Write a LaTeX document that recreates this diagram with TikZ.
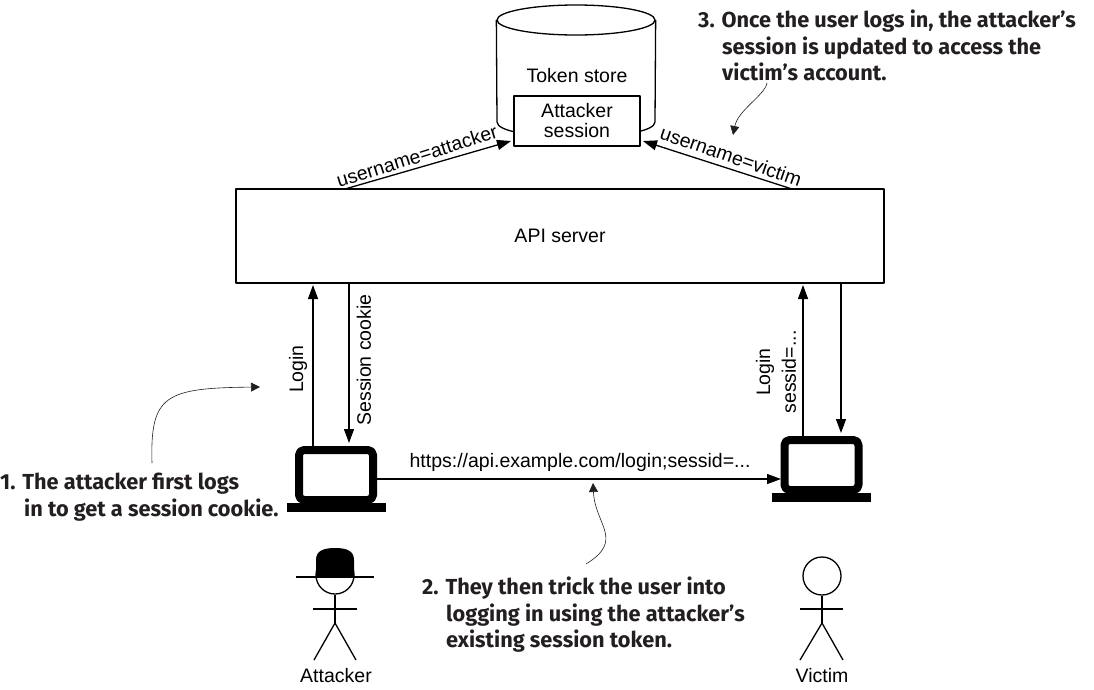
\documentclass[tikz,border=0pt]{standalone}
\usepackage{fontspec}
\setmainfont{Liberation Sans}
\newfontfamily\calloutfont{Fira Sans}
\usetikzlibrary{arrows.meta,shapes.geometric}
\definecolor{inkdark}{HTML}{231F20}
\begin{document}
\begin{tikzpicture}[x=1pt,y=-1pt,line join=bevel]
  \tikzstyle{every node}=[font=\fontsize{19.5}{20}\selectfont,text=black]
  \tikzstyle{box}=[draw,line width=1.3pt,fill=white,align=center,inner sep=0pt]
  \tikzstyle{flow}=[line width=1.3pt,-{Triangle[length=14pt,width=10pt]}]
  \tikzstyle{note}=[inkdark,line width=0.6pt,-{Triangle[length=9pt,width=9pt]}]
  \tikzstyle{callout}=[anchor=north west,inner sep=0pt,align=left,text=inkdark,font=\calloutfont\bfseries\fontsize{21.75}{26.5}\selectfont]
  \tikzstyle{laptop}=[draw,line width=8pt,rounded corners=5pt,minimum width=74pt,minimum height=50pt,inner sep=0pt]
  \tikzstyle{laptopbase}=[fill=black,minimum width=99pt,minimum height=9pt,inner sep=0pt]
  \tikzstyle{head}=[circle,draw,line width=1.3pt,minimum size=38pt,inner sep=0pt]
  \useasboundingbox (0,0) rectangle (1094,689);

  % token store
  \node[ellipse,draw,line width=1.3pt,minimum width=158pt,minimum height=30pt,inner sep=0pt] (store) at (576,20) {};
  \coordinate (store_bl) at (497,122);
  \coordinate (store_br) at (655,122);
  \coordinate (store_b) at (576,137);
  \draw[line width=1.3pt] (store.west) -- (store_bl) .. controls (497,131) and (530,137) .. (store_b) .. controls (622,137) and (655,131) .. (store_br) -- (store.east);
  \node (storelabel) at (577,76) {Token store};
  \node[box,minimum width=126pt,minimum height=50pt] (session) at (577,121) {Attacker\\session};

  % server
  \node[box,minimum width=648pt,minimum height=94pt] (api) at (560,236) {API server};

  % laptops
  \node[laptop] (lap_A) at (336,475) {};
  \node[laptopbase] (base_A) at (336,507.5) {};
  \node[laptop] (lap_V) at (821.5,465) {};
  \node[laptopbase] (base_V) at (821.5,497.5) {};

  % stick figures
  \node[head] (head_A) at (335,575) {};
  \fill (316,577) -- (316,560) .. controls (316,551) and (323,548) .. (335,548) .. controls (347,548) and (354,551) .. (354,560) -- (354,577) -- cycle;
  \coordinate (brim_l) at (296,577);
  \coordinate (brim_r) at (374,577);
  \draw[line width=1.3pt] (brim_l) -- (brim_r);
  \coordinate (hip_A) at (335,623);
  \coordinate (arm_Al) at (313,609);
  \coordinate (arm_Ar) at (357,609);
  \coordinate (leg_Al) at (314,660);
  \coordinate (leg_Ar) at (356,660);
  \draw[line width=1.3pt] (head_A) -- (hip_A);
  \draw[line width=1.3pt] (arm_Al) -- (arm_Ar);
  \draw[line width=1.3pt] (leg_Al) -- (hip_A) -- (leg_Ar);
  \node (attacker) at (336,676) {Attacker};

  \node[head,fill=white] (head_V) at (822,576) {};
  \coordinate (hip_V) at (822,623);
  \coordinate (arm_Vl) at (800,609);
  \coordinate (arm_Vr) at (843,609);
  \coordinate (leg_Vl) at (800,660);
  \coordinate (leg_Vr) at (843,660);
  \draw[line width=1.3pt] (head_V) -- (hip_V);
  \draw[line width=1.3pt] (arm_Vl) -- (arm_Vr);
  \draw[line width=1.3pt] (leg_Vl) -- (hip_V) -- (leg_Vr);
  \node (victim) at (822,676) {Victim};

  % arrow ends
  \coordinate (login_A0) at (313,446);
  \coordinate (login_A1) at (313,285);
  \coordinate (cookie_0) at (349,283);
  \coordinate (cookie_1) at (349,443);
  \coordinate (login_V0) at (803,436);
  \coordinate (login_V1) at (803,285);
  \coordinate (back_0) at (841,283);
  \coordinate (back_1) at (841,433);
  \coordinate (up_A0) at (345,189);
  \coordinate (up_A1) at (511,141);
  \coordinate (up_V0) at (792,189);
  \coordinate (up_V1) at (643,141);
  \coordinate (link_0) at (377,479);
  \coordinate (link_1) at (781,479);

  \draw[flow] (login_A0) -- (login_A1);
  \draw[flow] (cookie_0) -- (cookie_1);
  \draw[flow] (login_V0) -- (login_V1);
  \draw[flow] (back_0) -- (back_1);
  \draw[flow] (up_A0) -- (up_A1);
  \draw[flow] (up_V0) -- (up_V1);
  \draw[flow] (link_0) -- (link_1);

  \node[rotate=90] (login_Al) at (298,369) {Login};
  \node[rotate=90] (cookie_l) at (364,360) {Session cookie};
  \node[rotate=90] (login_Vl) at (765,372) {Login};
  \node[rotate=90] (sessid_l) at (789,372) {sessid=...};
  \node[rotate=17.5] (user_A) at (417,156) {username=attacker};
  \node[rotate=-19] (user_V) at (731,156) {username=victim};
  \node (url) at (580,462) {https://api.example.com/login;sessid=...};

  % callouts
  \node[callout] (note_1) at (0,473) {1. The attacker first logs\\\hspace*{24pt}in to get a session cookie.};
  \node[callout] (note_2) at (422,577) {2. They then trick the user into\\\hspace*{24pt}logging in using the attacker’s\\\hspace*{24pt}existing session token.};
  \node[callout] (note_3) at (698,10) {3. Once the user logs in, the attacker’s\\\hspace*{24pt}session is updated to access the\\\hspace*{24pt}victim’s account.};

  \coordinate (tip_1) at (260,387);
  \coordinate (tip_2) at (593,483);
  \coordinate (tip_3) at (733,135);
  \coordinate (tail_1) at (152,463);
  \coordinate (tail_2) at (586,564);
  \coordinate (tail_3) at (767,83);
  \draw[note] (tail_1) .. controls (150,395) and (165,388) .. (tip_1);
  \draw[note] (tail_2) .. controls (625,540) and (595,525) .. (tip_2);
  \draw[note] (tail_3) .. controls (765,95) and (738,110) .. (tip_3);
\end{tikzpicture}
\end{document}
